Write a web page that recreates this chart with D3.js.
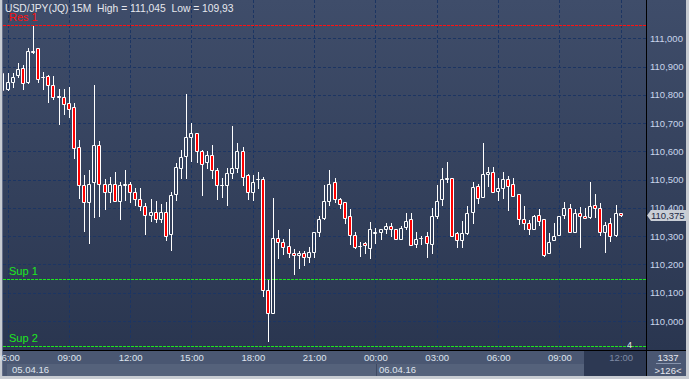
<!DOCTYPE html>
<html>
<head>
<meta charset="utf-8">
<script src="https://cdn.jsdelivr.net/npm/d3@7"></script>
<style>
  body { margin: 0; background: #c8ccd2; }
  svg { display: block; font-family: "Liberation Sans", Arial, sans-serif; }
</style>
</head>
<body>
<svg></svg>
<script>
// USD/JPY 15M candles, 05.04.16 05:45 .. 06.04.16 12:00
var opens = [110.876,110.820,110.844,110.870,110.894,110.844,110.953,110.964,110.862,110.865,
  110.834,110.795,110.791,110.770,110.756,110.615,110.480,110.420,110.491,110.622,
  110.484,110.455,110.484,110.425,110.482,110.484,110.455,110.432,110.407,110.374,
  110.385,110.360,110.387,110.309,110.448,110.542,110.585,110.650,110.664,110.600,
  110.561,110.586,110.533,110.481,110.480,110.525,110.540,110.600,110.515,110.455,
  110.501,110.501,110.108,110.028,110.293,110.279,110.265,110.240,110.233,110.242,
  110.228,110.243,110.314,110.364,110.424,110.491,110.431,110.420,110.371,110.305,
  110.265,110.275,110.258,110.313,110.314,110.325,110.336,110.325,110.289,110.334,
  110.360,110.274,110.292,110.301,110.274,110.371,110.431,110.503,110.505,110.312,
  110.286,110.313,110.387,110.479,110.440,110.519,110.528,110.459,110.470,110.502,
  110.484,110.448,110.360,110.346,110.325,110.374,110.360,110.240,110.286,110.303,
  110.374,110.399,110.314,110.381,110.372,110.369,110.410,110.399,110.314,110.346,
  110.305,110.381];
var highs = [110.880,110.876,110.876,110.911,110.905,110.964,111.045,110.964,110.880,110.870,
  110.866,110.821,110.821,110.829,110.770,110.640,110.517,110.534,110.835,110.637,
  110.502,110.511,110.528,110.493,110.534,110.493,110.470,110.470,110.417,110.432,
  110.425,110.414,110.422,110.458,110.560,110.605,110.803,110.699,110.664,110.605,
  110.601,110.623,110.540,110.507,110.540,110.690,110.629,110.614,110.519,110.517,
  110.526,110.508,110.146,110.434,110.322,110.290,110.326,110.255,110.246,110.249,
  110.261,110.314,110.372,110.481,110.534,110.507,110.436,110.422,110.396,110.316,
  110.281,110.281,110.350,110.328,110.325,110.348,110.348,110.325,110.336,110.381,
  110.381,110.314,110.302,110.314,110.399,110.481,110.540,110.562,110.505,110.316,
  110.354,110.408,110.493,110.484,110.631,110.544,110.544,110.505,110.528,110.514,
  110.507,110.448,110.407,110.358,110.375,110.396,110.360,110.311,110.346,110.372,
  110.420,110.414,110.396,110.405,110.399,110.493,110.449,110.417,110.351,110.364,
  110.411,110.381];
var lows = [110.813,110.817,110.829,110.864,110.820,110.842,110.947,110.844,110.820,110.774,
  110.785,110.696,110.732,110.723,110.578,110.434,110.320,110.277,110.369,110.373,
  110.396,110.422,110.424,110.360,110.428,110.420,110.411,110.393,110.309,110.352,
  110.349,110.349,110.287,110.252,110.428,110.507,110.507,110.566,110.564,110.446,
  110.542,110.507,110.433,110.440,110.411,110.507,110.526,110.481,110.433,110.428,
  110.472,110.087,109.930,110.028,110.224,110.237,110.228,110.168,110.189,110.198,
  110.207,110.228,110.302,110.360,110.411,110.422,110.401,110.346,110.274,110.258,
  110.231,110.242,110.224,110.277,110.289,110.313,110.301,110.290,110.289,110.325,
  110.269,110.263,110.274,110.226,110.240,110.364,110.411,110.493,110.302,110.263,
  110.263,110.307,110.348,110.419,110.440,110.478,110.455,110.428,110.434,110.393,
  110.443,110.343,110.325,110.308,110.325,110.340,110.230,110.240,110.286,110.303,
  110.364,110.314,110.314,110.263,110.364,110.364,110.369,110.305,110.243,110.283,
  110.299,110.372];
var closes = [110.817,110.844,110.864,110.890,110.841,110.955,110.955,110.855,110.863,110.835,
  110.791,110.794,110.766,110.750,110.611,110.480,110.420,110.484,110.622,110.484,
  110.458,110.484,110.425,110.481,110.483,110.455,110.431,110.407,110.374,110.385,
  110.361,110.387,110.302,110.446,110.544,110.579,110.650,110.664,110.602,110.554,
  110.586,110.533,110.481,110.482,110.525,110.540,110.600,110.508,110.455,110.493,
  110.502,110.108,110.028,110.293,110.279,110.263,110.240,110.233,110.240,110.226,
  110.243,110.314,110.360,110.424,110.484,110.431,110.413,110.364,110.305,110.261,
  110.266,110.268,110.325,110.314,110.325,110.336,110.325,110.290,110.328,110.354,
  110.269,110.290,110.293,110.275,110.371,110.424,110.502,110.505,110.302,110.286,
  110.313,110.383,110.473,110.434,110.519,110.528,110.455,110.471,110.502,110.479,
  110.443,110.360,110.346,110.325,110.372,110.353,110.234,110.279,110.301,110.372,
  110.399,110.314,110.381,110.372,110.364,110.407,110.399,110.314,110.340,110.301,
  110.381,110.375];

var priceTicks = [110.0, 110.1, 110.2, 110.3, 110.4, 110.5, 110.6, 110.7, 110.8, 110.9, 111.0];
var levelNames = ["Res 1", "Sup 1", "Sup 2"];
var levelValues = [111.048, 110.148, 109.910];
var dateLabels = ["05.04.16", "06.04.16"];
var symbolName = "USD/JPY(JQ) 15M";
var barCount = "1337";
var visibleBars = ">126<";

var width = 689;
var height = 379;
var plotRight = 646;
var plotBottom = 350;

var startTime = new Date(2016, 3, 5, 5, 45);
var endTime = new Date(2016, 3, 6, 12, 0);
var candles = opens.map(function(o, i) {
  return {
    time: d3.timeMinute.offset(startTime, 15 * i),
    open: o, high: highs[i], low: lows[i], close: closes[i]
  };
});

var ruLocale = d3.formatLocale({decimal: ",", thousands: ".", grouping: [3], currency: ["", ""]});
var fmtPrice = ruLocale.format(".3f");
var fmtShort = ruLocale.format(".3~f");

var xScale = d3.scaleTime().domain([startTime, endTime]).range([2.4, 620.7]);
var yScale = d3.scaleLinear().domain([110, 111]).range([321, 38.3]);
var levelColor = d3.scaleOrdinal().domain(levelNames).range(["#ff1010", "#1ee81e", "#1ee81e"]);

var svg = d3.select("svg").attr("width", width).attr("height", height);
var defs = svg.append("defs");
var grad = defs.append("linearGradient").attr("id", "bg")
  .attr("x1", 0).attr("y1", 0).attr("x2", 0).attr("y2", 1);
grad.append("stop").attr("offset", "0%").attr("stop-color", "#3f4d6a");
grad.append("stop").attr("offset", "100%").attr("stop-color", "#2a3650");
defs.append("clipPath").attr("id", "plotClip")
  .append("rect").attr("x", 3).attr("y", 0).attr("width", plotRight - 3).attr("height", plotBottom);

// frame and panels
svg.append("rect").attr("width", width).attr("height", height).attr("fill", "#c8ccd2");
svg.append("rect").attr("x", 3).attr("y", 0).attr("width", 683).attr("height", plotBottom)
  .attr("fill", "url(#bg)");
svg.append("rect").attr("x", 3).attr("y", 351).attr("width", 683).attr("height", 25)
  .attr("fill", "#4a5772");
svg.append("rect").attr("x", 7).attr("y", 364).attr("width", 577).attr("height", 12)
  .attr("fill", "#55627b");
svg.append("line").attr("x1", 2.5).attr("x2", 2.5).attr("y1", 0).attr("y2", 376)
  .attr("stroke", "#66708a");

var timeTicks = xScale.ticks(d3.timeHour.every(3));
var lastTick = timeTicks[timeTicks.length - 1];
svg.append("rect").attr("x", Math.round(xScale(lastTick)) - 37).attr("y", 351)
  .attr("width", plotRight - Math.round(xScale(lastTick)) + 37).attr("height", 25)
  .attr("fill", "#2d3953");

// grid
var grid = svg.append("g");
grid.selectAll(".hgrid").data(priceTicks).enter().append("line")
  .attr("x1", 3).attr("x2", plotRight)
  .attr("y1", d => Math.round(yScale(d)) + 0.5).attr("y2", d => Math.round(yScale(d)) + 0.5)
  .attr("stroke", "#1c3563").attr("stroke-dasharray", "3,2");
grid.selectAll(".vgrid").data(timeTicks).enter().append("line")
  .attr("y1", 0).attr("y2", plotBottom)
  .attr("x1", d => Math.round(xScale(d)) + 0.5).attr("x2", d => Math.round(xScale(d)) + 0.5)
  .attr("stroke", "#1c3563").attr("stroke-dasharray", "3,2");

// support / resistance levels
var levels = svg.append("g").attr("clip-path", "url(#plotClip)");
levelNames.forEach(function(name, i) {
  var y = Math.round(yScale(levelValues[i])) + 0.5;
  levels.append("line").attr("x1", 3).attr("x2", plotRight).attr("y1", y).attr("y2", y)
    .attr("stroke", levelColor(name)).attr("stroke-dasharray", "3,1");
  levels.append("text").attr("x", 9).attr("y", y - 5).text(name)
    .attr("fill", levelColor(name)).style("font-size", "11px");
});

// candles
var cg = svg.append("g").attr("clip-path", "url(#plotClip)");
var bars = cg.selectAll(".candle").data(candles).enter().append("g");
function cx(d) { return Math.round(xScale(d.time)) + 0.5; }
function bodyTop(d) { return Math.round(yScale(Math.max(d.open, d.close))) + 0.5; }
function bodyBot(d) { return Math.round(yScale(Math.min(d.open, d.close))) + 0.5; }
bars.append("line")
  .attr("x1", cx).attr("x2", cx)
  .attr("y1", d => Math.round(yScale(d.high))).attr("y2", bodyTop)
  .attr("stroke", "#fff");
bars.append("line")
  .attr("x1", cx).attr("x2", cx)
  .attr("y1", bodyBot).attr("y2", d => Math.round(yScale(d.low)) + 1)
  .attr("stroke", "#fff");
bars.append("path")
  .attr("d", d => "M" + (cx(d) - 2) + "," + bodyTop(d) + "h3V" + bodyBot(d) + "h-3Z")
  .attr("fill", d => d.close < d.open ? "#ff0000" : "none")
  .attr("stroke", "#fff");

// borders
svg.append("line").attr("x1", plotRight + 0.5).attr("x2", plotRight + 0.5)
  .attr("y1", 0).attr("y2", 376).attr("stroke", "#000");
svg.append("line").attr("x1", 3).attr("x2", 686).attr("y1", plotBottom + 0.5).attr("y2", plotBottom + 0.5)
  .attr("stroke", "#000");
svg.append("line").attr("x1", 376.5).attr("x2", 376.5).attr("y1", 364).attr("y2", 376)
  .attr("stroke", "#3e4a63");

// price axis
var yAxis = d3.axisRight(yScale).tickValues(priceTicks).tickFormat(fmtPrice)
  .tickSize(0).tickPadding(4);
var yg = svg.append("g").attr("transform", "translate(" + plotRight + ",0)").call(yAxis);
yg.select(".domain").remove();
yg.selectAll("text").attr("fill", "#c9d5ec").style("font-size", "9.5px")
  .style("font-family", "'Liberation Sans', Arial, sans-serif");

// time axis
var xAxis = d3.axisBottom(xScale).tickValues(timeTicks).tickFormat(d3.timeFormat("%H:%M"))
  .tickSize(0).tickPadding(4);
var xg = svg.append("g").attr("transform", "translate(0," + plotBottom + ")").call(xAxis);
xg.select(".domain").remove();
xg.selectAll("text").attr("fill", d => d === lastTick ? "#7d8aa4" : "#dfe4ee")
  .style("font-size", "9.5px").style("font-family", "'Liberation Sans', Arial, sans-serif");

// date row
var midnight = d3.timeDay.ceil(startTime);
svg.selectAll(".date").data(dateLabels).enter().append("text")
  .attr("x", (d, i) => i === 0 ? 12 : Math.round(xScale(midnight)) + 4)
  .attr("y", 373).text(d => d)
  .attr("fill", "#dfe4ee").style("font-size", "9.5px");

// last price tag
var lastClose = closes[closes.length - 1];
var ty = Math.round(yScale(lastClose));
svg.append("path")
  .attr("d", "M" + (plotRight + 1) + "," + (ty + 0.5) + "L651," + (ty - 5) + "H686V" + (ty + 6) + "H651Z")
  .attr("fill", "#c9ced6");
svg.append("text").attr("x", 651).attr("y", ty + 4).text(fmtPrice(lastClose))
  .attr("fill", "#1e2a44").style("font-size", "9.5px");

// header
svg.append("text").attr("x", 5).attr("y", 11.5)
  .attr("fill", "#e6e8ee").style("font-size", "10.3px").style("white-space", "pre")
  .text(symbolName + "  High = " + fmtShort(d3.max(highs)) + "  Low = " + fmtShort(d3.min(lows)));

svg.append("text").attr("x", 627).attr("y", 348).text("4")
  .attr("fill", "#e6e8ee").style("font-size", "9px");

// bar counter box
svg.append("text").attr("x", 668).attr("y", 361).attr("text-anchor", "middle").text(barCount)
  .attr("fill", "#e6e8ee").style("font-size", "9.5px");
svg.append("line").attr("x1", 656).attr("x2", 681).attr("y1", 363.5).attr("y2", 363.5)
  .attr("stroke", "#8794ad");
svg.append("text").attr("x", 668).attr("y", 374).attr("text-anchor", "middle").text(visibleBars)
  .attr("fill", "#e6e8ee").style("font-size", "9.5px");
</script>
</body>
</html>
